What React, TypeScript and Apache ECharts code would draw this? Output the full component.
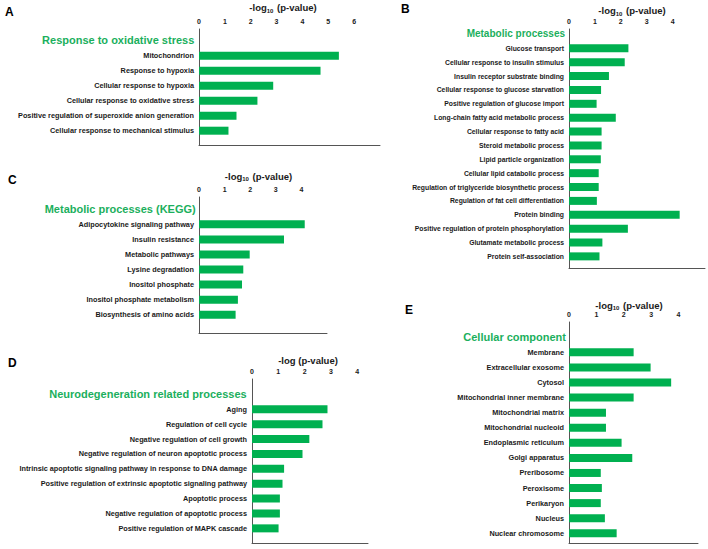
import React, { useEffect, useRef } from 'react';
import * as echarts from 'echarts';

// ---------- DATA ----------
const catsA = [
  'Mitochondrion',
  'Response to hypoxia',
  'Cellular response to hypoxia',
  'Cellular response to oxidative stress',
  'Positive regulation of superoxide anion generation',
  'Cellular response to mechanical stimulus',
];
const valsA = [5.41, 4.7, 2.87, 2.26, 1.45, 1.14];

const catsB = [
  'Glucose transport',
  'Cellular response to insulin stimulus',
  'Insulin receptor substrate binding',
  'Cellular response to glucose starvation',
  'Positive regulation of glucose import',
  'Long-chain fatty acid metabolic process',
  'Cellular response to fatty acid',
  'Steroid metabolic process',
  'Lipid particle organization',
  'Cellular lipid catabolic process',
  'Regulation of triglyceride biosynthetic process',
  'Regulation of fat cell differentiation',
  'Protein binding',
  'Positive regulation of protein phosphorylation',
  'Glutamate metabolic process',
  'Protein self-association',
];
const valsB = [2.26, 2.12, 1.52, 1.22, 1.05, 1.78, 1.24, 1.24, 1.21, 1.13, 1.13, 1.06, 4.21, 2.24, 1.27, 1.16];

const catsC = [
  'Adipocytokine signaling pathway',
  'Insulin resistance',
  'Metabolic pathways',
  'Lysine degradation',
  'Inositol phosphate',
  'Inositol phosphate metabolism',
  'Biosynthesis of amino acids',
];
const valsC = [4.13, 3.32, 1.98, 1.73, 1.68, 1.52, 1.43];

const catsD = [
  'Aging',
  'Regulation of cell cycle',
  'Negative regulation of cell growth',
  'Negative regulation of neuron apoptotic process',
  'Intrinsic apoptotic signaling pathway in response to DNA damage',
  'Positive regulation of extrinsic apoptotic signaling pathway',
  'Apoptotic process',
  'Negative regulation of apoptotic process',
  'Positive regulation of MAPK cascade',
];
const valsD = [2.87, 2.68, 2.18, 1.92, 1.22, 1.16, 1.06, 1.06, 1.01];

const catsE = [
  'Membrane',
  'Extracellular exosome',
  'Cytosol',
  'Mitochondrial inner membrane',
  'Mitochondrial matrix',
  'Mitochondrial nucleoid',
  'Endoplasmic reticulum',
  'Golgi apparatus',
  'Preribosome',
  'Peroxisome',
  'Perikaryon',
  'Nucleus',
  'Nuclear chromosome',
];
const valsE = [2.36, 2.98, 3.73, 2.36, 1.35, 1.35, 1.92, 2.31, 1.16, 1.2, 1.16, 1.31, 1.74];

const titles = [
  'Response to oxidative stress',
  'Metabolic processes',
  'Metabolic processes (KEGG)',
  'Neurodegeneration related processes',
  'Cellular component',
];
const letters = ['A', 'B', 'C', 'D', 'E'];
const axisTitles = ['-log{s|10} (p-value)', '-log{s|10} (p-value)', '-log{s|10} (p-value)', '-log (p-value)', '-log{s|10} (p-value)'];
const tickLabelMax = [6, 4, 4, 4, 4];

// ---------- LAYOUT ----------
const FONT = 'Arial, "Liberation Sans", Helvetica, sans-serif';
const BAR = '#00B050';
const TITLE_GREEN = '#1BAF5D';
const AXIS = '#555555';
const TXT = '#1a1a1a';

const layout = [
  { frame: { left: 199, top: 29, width: 181, height: 116 }, max: 7, bars: { top: 48.2, height: 90 }, labelFont: 7.3, titleFont: 11,
    letter: [5, 11.5], axisTitle: [283, 7.5], title: [194.3, 40] },
  { frame: { left: 569, top: 29, width: 138, height: 239 }, max: 5.25, bars: { top: 41.4, height: 221.9 }, labelFont: 6.8, titleFont: 10,
    letter: [401, 9], axisTitle: [632, 10.5], title: [565, 33.5] },
  { frame: { left: 199, top: 197, width: 128, height: 136 }, max: 5, bars: { top: 216.8, height: 105.5 }, labelFont: 7.3, titleFont: 11,
    letter: [8, 180], axisTitle: [258.5, 176], title: [195.7, 209] },
  { frame: { left: 252, top: 379, width: 116, height: 164 }, max: 4.41, bars: { top: 401.9, height: 133.9 }, labelFont: 7.3, titleFont: 11,
    letter: [8, 362.5], axisTitle: [308, 360], title: [246.7, 394] },
  { frame: { left: 569, top: 322, width: 129, height: 221 }, max: 4.71, bars: { top: 344.8, height: 196 }, labelFont: 7.3, titleFont: 11,
    letter: [405, 310], axisTitle: [629, 305], title: [566, 337] },
];

const allCats = [catsA, catsB, catsC, catsD, catsE];
const allVals = [valsA, valsB, valsC, valsD, valsE];

function buildOption() {
  const grid: any[] = [];
  const xAxis: any[] = [];
  const yAxis: any[] = [];
  const series: any[] = [];
  const graphic: any[] = [];

  layout.forEach((p, i) => {
    // frame grid (axis lines + tick labels)
    const fIdx = grid.length;
    grid.push({ left: p.frame.left, top: p.frame.top, width: p.frame.width, height: p.frame.height, containLabel: false });
    xAxis.push({
      gridIndex: fIdx, type: 'value', position: 'top', min: 0, max: p.max, interval: 1,
      axisLine: { show: true, lineStyle: { color: AXIS, width: 1 } },
      axisTick: { show: false }, splitLine: { show: false },
      axisLabel: {
        show: true, margin: 4, fontSize: 7, fontWeight: 'bold', color: TXT, fontFamily: FONT,
        showMinLabel: true, showMaxLabel: true,
        formatter: (v: number) => (v <= tickLabelMax[i] && Math.abs(v - Math.round(v)) < 1e-6 ? String(v) : ''),
      },
    });
    yAxis.push({
      gridIndex: fIdx, type: 'value', min: 0, max: 1, position: 'left',
      axisLine: { show: true, lineStyle: { color: AXIS, width: 1 } },
      axisTick: { show: false }, axisLabel: { show: false }, splitLine: { show: false },
    });

    // bar grid
    const bIdx = grid.length;
    grid.push({ left: p.frame.left, top: p.bars.top, width: p.frame.width, height: p.bars.height, containLabel: false });
    xAxis.push({ gridIndex: bIdx, type: 'value', min: 0, max: p.max, show: false });
    yAxis.push({
      gridIndex: bIdx, type: 'category', inverse: true, data: allCats[i],
      axisLine: { show: false }, axisTick: { show: false }, splitLine: { show: false },
      axisLabel: { interval: 0, margin: 5, fontSize: p.labelFont, fontWeight: 'bold', color: TXT, fontFamily: FONT },
    });
    series.push({
      type: 'bar', xAxisIndex: bIdx, yAxisIndex: bIdx, data: allVals[i], barWidth: 8,
      itemStyle: { color: BAR }, silent: true,
    });

    // texts
    graphic.push({
      type: 'text', x: p.letter[0], y: p.letter[1],
      style: { text: letters[i], fill: '#000', font: `bold 12px ${FONT}`, align: 'left', verticalAlign: 'middle', textAlign: 'left', textVerticalAlign: 'middle' },
    });
    graphic.push({
      type: 'text', x: p.title[0], y: p.title[1],
      style: { text: titles[i], fill: TITLE_GREEN, font: `bold ${p.titleFont}px ${FONT}`, align: 'right', verticalAlign: 'middle', textAlign: 'right', textVerticalAlign: 'middle' },
    });
    graphic.push({
      type: 'text', x: p.axisTitle[0], y: p.axisTitle[1],
      style: {
        text: axisTitles[i], fill: TXT, font: `bold 9.5px ${FONT}`, fontSize: 9.5, fontWeight: 'bold', fontFamily: FONT,
        align: 'center', verticalAlign: 'middle', textAlign: 'center', textVerticalAlign: 'middle',
        rich: {
          s: { fontSize: 6, fontWeight: 'bold', fontFamily: FONT, fill: TXT, verticalAlign: 'bottom', lineHeight: 12, padding: [4, 1, 0, 0] },
        },
      },
    });
  });

  return { animation: false, backgroundColor: '#ffffff', grid, xAxis, yAxis, series, graphic };
}

export default function App() {
  const ref = useRef<HTMLDivElement>(null);
  useEffect(() => {
    document.body.style.margin = '0';
    if (!ref.current) return;
    const chart = echarts.init(ref.current, undefined, { renderer: 'svg' });
    chart.setOption(buildOption() as any);
    return () => chart.dispose();
  }, []);
  return <div ref={ref} style={{ width: 708, height: 549, background: '#fff' }} />;
}
